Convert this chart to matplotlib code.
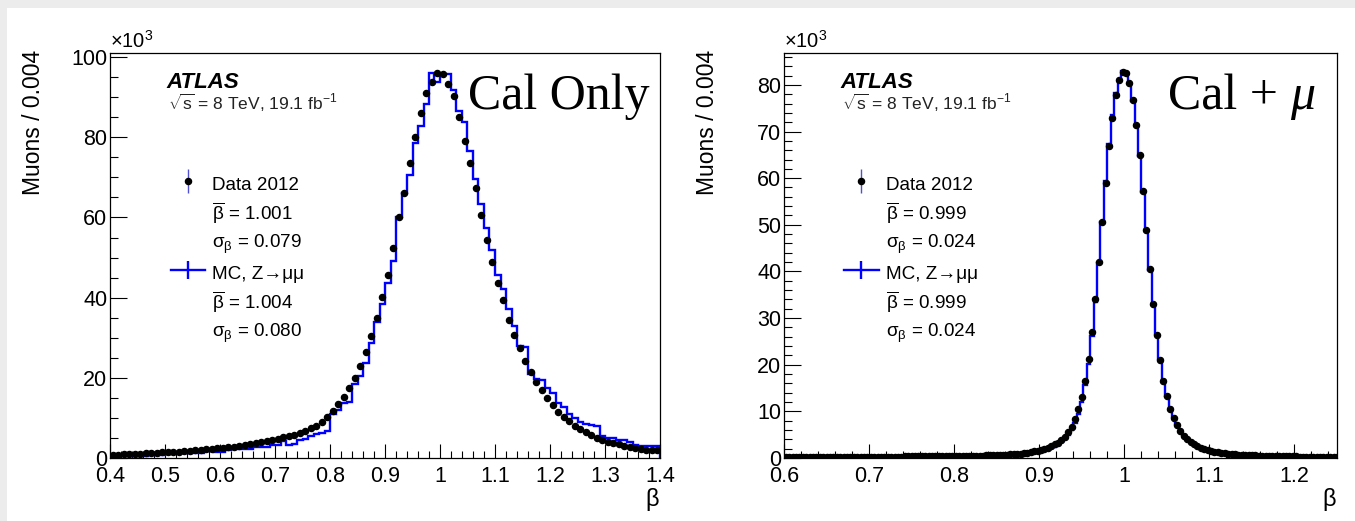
import numpy as np
import matplotlib
matplotlib.use("Agg")
import matplotlib.pyplot as plt
from matplotlib.lines import Line2D
from matplotlib.patches import Rectangle
from matplotlib.ticker import MultipleLocator, FuncFormatter
from matplotlib.legend_handler import HandlerTuple

plt.rcParams['font.family'] = ['Liberation Sans', 'DejaVu Sans']
plt.rcParams['mathtext.fontset'] = 'custom'
plt.rcParams['mathtext.rm'] = 'Liberation Sans'
plt.rcParams['mathtext.it'] = 'Liberation Sans:italic'
plt.rcParams['mathtext.bf'] = 'Liberation Sans:bold'
plt.rcParams['mathtext.default'] = 'regular'

# ---------------- Cal Only: beta in 0.01 bins, 0.40 - 1.40 (x10^3 muons)
cal_range = (0.40, 1.40)
cal_data = [
    0.8, 0.85, 0.9, 1.0, 1.05, 1.1, 1.2, 1.25, 1.3, 1.4,
    1.45, 1.5, 1.6, 1.7, 1.8, 1.9, 2.0, 2.15, 2.3, 2.4,
    2.55, 2.7, 2.85, 3.05, 3.25, 3.45, 3.7, 3.95, 4.25, 4.55,
    4.85, 5.15, 5.45, 5.8, 6.2, 6.7, 7.4, 8.1, 9.0, 10.3,
    11.6, 13.4, 15.3, 17.4, 20.0, 22.9, 26.5, 30.5, 35.0, 40.2,
    45.6, 52.3, 60.0, 66.2, 73.5, 80.1, 86.0, 91.1, 93.8, 96.1,
    95.8, 93.3, 90.4, 85.0, 79.1, 73.5, 67.3, 60.6, 54.5, 49.0,
    43.7, 39.3, 34.4, 30.7, 27.4, 24.2, 21.4, 19.0, 16.9, 15.0,
    13.2, 11.5, 10.3, 9.2, 8.1, 7.2, 6.4, 5.7, 5.1, 4.5,
    4.1, 3.7, 3.4, 3.1, 2.8, 2.4, 2.2, 2.0, 2.0, 1.9,
]
cal_mc = [
    0.5, 0.5, 0.6, 0.6, 0.6, 0.6, 0.55, 0.8, 0.8, 0.8,
    1.1, 1.2, 1.2, 1.2, 1.2, 1.3, 1.3, 1.7, 1.75, 1.5,
    1.4, 2.1, 2.2, 2.2, 2.2, 2.3, 2.7, 2.7, 2.8, 3.2,
    3.3, 4.3, 3.2, 3.6, 4.6, 4.8, 5.6, 6.0, 6.3, 6.8,
    11.0, 12.0, 13.8, 14.0, 18.5, 20.4, 23.6, 28.6, 34.0, 38.3,
    43.7, 49.2, 60.0, 66.0, 70.7, 78.5, 82.9, 88.3, 96.1, 93.9,
    95.8, 95.8, 91.9, 86.6, 83.7, 76.7, 69.5, 63.3, 57.3, 51.9,
    45.6, 42.1, 37.2, 32.9, 28.0, 27.7, 21.0, 19.6, 19.4, 17.5,
    16.3, 13.6, 12.6, 10.9, 9.9, 8.9, 8.5, 8.3, 8.0, 5.4,
    5.0, 4.9, 4.6, 4.4, 4.1, 3.3, 3.0, 3.0, 3.0, 3.0,
]

# ---------------- Cal + mu: beta in 0.004 bins starting at 0.60 (x10^3 muons)
comb_start, comb_width = 0.60, 0.004
comb_data = [
    0.20, 0.20, 0.20, 0.20, 0.21, 0.21, 0.21, 0.21, 0.22, 0.22,
    0.22, 0.22, 0.23, 0.23, 0.23, 0.24, 0.24, 0.24, 0.25, 0.25,
    0.25, 0.26, 0.26, 0.27, 0.27, 0.28, 0.28, 0.29, 0.29, 0.30,
    0.30, 0.31, 0.31, 0.32, 0.32, 0.33, 0.33, 0.34, 0.34, 0.35,
    0.35, 0.36, 0.36, 0.37, 0.37, 0.38, 0.38, 0.39, 0.39, 0.39,
    0.40, 0.41, 0.42, 0.44, 0.45, 0.46, 0.48, 0.50, 0.52, 0.55,
    0.57, 0.60, 0.62, 0.66, 0.70, 0.75, 0.80, 0.85, 0.90, 0.95,
    1.05, 1.15, 1.25, 1.40, 1.55, 1.75, 1.95, 2.20, 2.50, 2.90,
    3.30, 3.90, 4.60, 5.50, 6.70, 8.30, 10.4, 13.0, 16.6, 21.2,
    27.0, 34.0, 42.0, 50.5, 59.0, 66.8, 73.0, 77.8, 81.0, 82.8,
    82.5, 80.5, 76.8, 71.5, 65.0, 57.2, 48.8, 40.5, 33.0, 26.4,
    21.0, 16.6, 13.2, 10.6, 8.60, 7.00, 5.80, 4.80, 4.00, 3.40,
    2.90, 2.50, 2.20, 1.90, 1.70, 1.50, 1.35, 1.20, 1.10, 1.00,
    0.90, 0.85, 0.80, 0.75, 0.70, 0.66, 0.62, 0.58, 0.55, 0.52,
    0.50, 0.47, 0.45, 0.43, 0.41, 0.40, 0.38, 0.37, 0.35, 0.34,
    0.33, 0.32, 0.31, 0.30, 0.30, 0.29, 0.28, 0.28, 0.27, 0.27,
    0.26, 0.26, 0.25,
]
comb_mc = [
    0.18, 0.18, 0.18, 0.19, 0.19, 0.19, 0.19, 0.20, 0.20, 0.20,
    0.20, 0.21, 0.21, 0.21, 0.22, 0.22, 0.22, 0.23, 0.23, 0.23,
    0.24, 0.24, 0.25, 0.25, 0.26, 0.26, 0.27, 0.27, 0.28, 0.28,
    0.29, 0.29, 0.30, 0.30, 0.31, 0.31, 0.32, 0.32, 0.33, 0.33,
    0.34, 0.34, 0.35, 0.35, 0.36, 0.36, 0.37, 0.37, 0.38, 0.38,
    0.39, 0.40, 0.41, 0.42, 0.43, 0.44, 0.46, 0.47, 0.49, 0.51,
    0.53, 0.55, 0.58, 0.61, 0.64, 0.68, 0.72, 0.76, 0.81, 0.86,
    0.93, 1.00, 1.10, 1.20, 1.33, 1.48, 1.66, 1.86, 2.10, 2.45,
    2.85, 3.35, 4.00, 4.85, 5.95, 7.50, 9.50, 12.0, 15.6, 20.2,
    26.2, 33.5, 41.8, 50.6, 59.4, 67.4, 73.6, 78.3, 81.3, 82.9,
    82.4, 80.3, 76.5, 71.2, 64.8, 57.0, 48.6, 40.4, 33.0, 26.5,
    21.2, 16.8, 13.4, 10.8, 8.80, 7.20, 5.90, 4.90, 4.10, 3.50,
    2.95, 2.55, 2.22, 1.94, 1.72, 1.52, 1.36, 1.22, 1.10, 1.00,
    0.91, 0.84, 0.78, 0.73, 0.68, 0.64, 0.60, 0.56, 0.53, 0.50,
    0.48, 0.45, 0.43, 0.41, 0.40, 0.38, 0.37, 0.35, 0.34, 0.33,
    0.32, 0.31, 0.30, 0.29, 0.29, 0.28, 0.27, 0.27, 0.26, 0.26,
    0.25, 0.25, 0.24,
]

panels = [
    dict(data=cal_data, mc=cal_mc, x0=cal_range[0],
         width=(cal_range[1] - cal_range[0]) / len(cal_data),
         xlim=(0.40, 1.40), ylim=(0, 101.1), ymajor=20, yminor=5,
         label="Cal Only", label_x=0.651, leg_x=0.110,
         stats=("1.001", "0.079", "1.004", "0.080")),
    dict(data=comb_data, mc=comb_mc, x0=comb_start, width=comb_width,
         xlim=(0.60, 1.25), ylim=(0, 86.9), ymajor=10, yminor=2,
         label="Cal + ", label_x=0.694, leg_x=0.1085,
         stats=("0.999", "0.024", "0.999", "0.024")),
]

W, H = 1355, 521
fig = plt.figure(figsize=(W / 100, H / 100), dpi=100)
fig.patch.set_facecolor("white")
fig.patches.append(Rectangle((0, 1 - 8 / H), 1, 8 / H, transform=fig.transFigure,
                             facecolor="#ececec", edgecolor="none", zorder=-5))
fig.patches.append(Rectangle((0, 0), 7 / W, 1, transform=fig.transFigure,
                             facecolor="#ececec", edgecolor="none", zorder=-5))

ax_boxes = [(110, 660), (784, 1337)]
top_px, bot_px = 52.7, 458.0

fmt = FuncFormatter(lambda v, p: f"{v:g}")

for (xl, xr), P in zip(ax_boxes, panels):
    ax = fig.add_axes([xl / W, (H - bot_px) / H, (xr - xl) / W, (bot_px - top_px) / H])
    n = len(P["data"])
    edges = P["x0"] + P["width"] * np.arange(n + 1)
    centers = 0.5 * (edges[:-1] + edges[1:])
    data = np.asarray(P["data"])
    mc = np.asarray(P["mc"])

    ax.stairs(mc, edges, color="#0000ff", lw=1.7, zorder=2)
    ax.errorbar(centers, data, yerr=np.sqrt(data * 1000) / 1000, fmt="o",
                color="black", ms=4.4, elinewidth=0.8, capsize=0, zorder=3)

    ax.set_xlim(*P["xlim"])
    ax.set_ylim(*P["ylim"])
    ax.xaxis.set_major_locator(MultipleLocator(0.1))
    ax.xaxis.set_minor_locator(MultipleLocator(0.02))
    ax.yaxis.set_major_locator(MultipleLocator(P["ymajor"]))
    ax.yaxis.set_minor_locator(MultipleLocator(P["yminor"]))
    ax.xaxis.set_major_formatter(fmt)
    ax.yaxis.set_major_formatter(fmt)
    ax.tick_params(axis="x", which="major", direction="in", length=10, width=0.8,
                   labelsize=15.5, pad=6)
    ax.tick_params(axis="x", which="minor", direction="in", length=5, width=0.8)
    ax.tick_params(axis="y", which="major", direction="in", length=12, width=0.8,
                   labelsize=15.5, pad=2)
    ax.tick_params(axis="y", which="minor", direction="in", length=6, width=0.8)
    for s in ax.spines.values():
        s.set_linewidth(0.9)

    ax.set_ylabel("Muons / 0.004", fontsize=16.5, loc="top")
    ax.yaxis.set_label_coords(-0.118, 1.007)
    ax.set_xlabel(r"$\beta$", fontsize=17, loc="right")
    ax.xaxis.set_label_coords(1.0, -0.07)
    ax.text(0.0, 1.012, r"$\times$10$^{3}$", transform=ax.transAxes,
            fontsize=14.5, ha="left", va="baseline")

    ax.text(0.102, 0.912, "ATLAS", transform=ax.transAxes, fontsize=16,
            fontweight="bold", fontstyle="italic", va="baseline")
    ax.text(0.105, 0.858, r"$\sqrt{s}$ = 8 TeV, 19.1 fb$^{-1}$", transform=ax.transAxes,
            fontsize=12.5, va="baseline", color="#222222")

    t = ax.text(P["label_x"], 0.861, P["label"], transform=ax.transAxes,
                fontsize=36, family="Liberation Serif", va="baseline", ha="left")
    if P["label"] != "Cal Only":
        ax.annotate("\u03bc", xy=(1, 0), xycoords=t, va="bottom", ha="left",
                    fontsize=36, family="Liberation Serif", fontstyle="italic",
                    annotation_clip=False)

    b_d, s_d, b_m, s_m = P["stats"]
    data_key = (Line2D([], [], color="#5050d0", marker="|", ms=17, mew=1.0, ls="none"),
                Line2D([], [], color="black", marker="o", ms=4.4, ls="none"))
    mc_key = (Line2D([], [], color="#0000ff", lw=1.7),
              Line2D([], [], color="#0000ff", marker="|", ms=13, mew=1.7, ls="none"))
    blank = Line2D([], [], ls="none")
    handles = [data_key, blank, blank, mc_key, blank, blank]
    labels = ["Data 2012", r"$\overline{\beta}$ = " + b_d, r"$\sigma_{\beta}$ = " + s_d,
              "MC, Z\u2192\u03bc\u03bc", r"$\overline{\beta}$ = " + b_m,
              r"$\sigma_{\beta}$ = " + s_m]
    ax.legend(handles, labels, loc="upper left", bbox_to_anchor=(P["leg_x"], 0.706),
              frameon=False, fontsize=13.6, handlelength=1.83, handletextpad=0.39,
              handleheight=1.5, labelspacing=0.28, borderpad=0, borderaxespad=0,
              numpoints=1, handler_map={tuple: HandlerTuple(ndivide=1, pad=0)})

fig.savefig("out.png", dpi=100)
